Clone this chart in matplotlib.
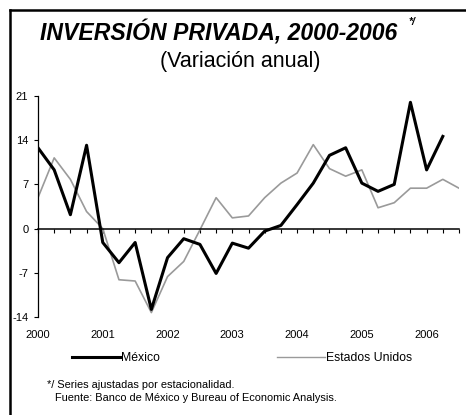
import matplotlib
matplotlib.use("Agg")
import matplotlib.pyplot as plt
from matplotlib.lines import Line2D
import matplotlib.transforms as mtransforms

plt.rcParams['font.family'] = ['Liberation Sans', 'DejaVu Sans']

# quarterly data, 2000Q1 .. 2006Q3
years = ['2000', '2001', '2002', '2003', '2004', '2005', '2006']
mexico = [12.8, 9.3, 2.2, 13.2, -2.2, -5.4, -2.2, -12.8, -4.6, -1.6, -2.5, -7.1, -2.3,
          -3.1, -0.4, 0.5, 3.8, 7.2, 11.6, 12.8, 7.2, 5.9, 7.0, 20.0, 9.3, 14.6]
eeuu = [4.9, 11.2, 7.8, 2.7, 0.0, -8.1, -8.3, -13.3, -7.6, -5.2, -0.2, 4.9, 1.7,
        2.0, 4.9, 7.2, 8.8, 13.3, 9.5, 8.3, 9.3, 3.3, 4.1, 6.4, 6.4, 7.8, 6.4]
yticks = [21, 14, 7, 0, -7, -14]

W, H = 466, 415
fig = plt.figure(figsize=(W / 100, H / 100), dpi=100)
ax = fig.add_axes([38 / W, 1 - 317 / H, (459 - 38) / W, (317 - 96) / H])

ax.plot(range(len(eeuu)), eeuu, color='#9a9a9a', lw=1.2, label='Estados Unidos', zorder=2)
ax.plot(range(len(mexico)), mexico, color='black', lw=2.2, label='México', zorder=3)

ax.set_xlim(0, len(eeuu) - 1)
ax.set_ylim(-14, 21)
ax.spines['top'].set_visible(False)
ax.spines['right'].set_visible(False)
ax.spines['bottom'].set_position(('data', 0))
ax.spines['left'].set_linewidth(0.9)
ax.spines['bottom'].set_linewidth(1.1)

ax.set_yticks(yticks)
ax.set_yticklabels([str(v) for v in yticks], fontsize=8)
ax.tick_params(axis='y', direction='out', length=3, width=0.8, pad=4)
ax.set_xticks(range(len(eeuu)))
ax.set_xticklabels([])
ax.tick_params(axis='x', direction='out', length=3, width=0.8)

trans = mtransforms.blended_transform_factory(ax.transData, fig.transFigure)
for i, y in enumerate(years):
    ax.text(i * 4, 1 - 335 / H, y, transform=trans, ha='center', va='center', fontsize=8)

handles = [Line2D([], [], color='black', lw=2.2), Line2D([], [], color='#9a9a9a', lw=1.0)]
fig.legend(handles, ['México', 'Estados Unidos'], ncol=2, frameon=False,
           loc='center left', bbox_to_anchor=(72 / W, 1 - 358 / H), fontsize=8.8,
           handlelength=3.9, handletextpad=0.1, columnspacing=9.6,
           borderpad=0, borderaxespad=0)

fig.text(219 / W, 1 - 33 / H, 'INVERSIÓN PRIVADA, 2000-2006', ha='center', va='center',
         fontsize=16.6, fontweight='bold', fontstyle='italic')
fig.text(409 / W, 1 - 22 / H, '*/', ha='left', va='center', fontsize=7.5,
         fontweight='bold', fontstyle='italic')
fig.text(240 / W, 1 - 62 / H, '(Variación anual)', ha='center', va='center', fontsize=15.5)

fig.text(47 / W, 1 - 385 / H, '*/ Series ajustadas por estacionalidad.', ha='left',
         va='center', fontsize=7.9)
fig.text(55 / W, 1 - 398 / H, 'Fuente: Banco de México y Bureau of Economic Analysis.',
         ha='left', va='center', fontsize=7.9)

# frame: left and top only
fig.add_artist(Line2D([10 / W, 10 / W], [0, 1 - 10 / H], color='black', lw=1.8,
                      transform=fig.transFigure))
fig.add_artist(Line2D([10 / W, 1], [1 - 10 / H, 1 - 10 / H], color='black', lw=1.8,
                      transform=fig.transFigure))

fig.savefig('out.png', dpi=100)
